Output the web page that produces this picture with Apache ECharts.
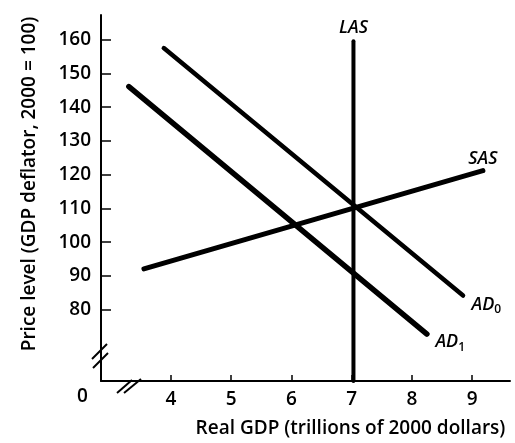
<!DOCTYPE html>
<html>
<head>
<meta charset="utf-8">
<script src="https://cdn.jsdelivr.net/npm/echarts@6/dist/echarts.min.js"></script>
<style>
  html, body { margin: 0; padding: 0; background: #fff; }
  #adasChart { width: 515px; height: 443px; }
</style>
</head>
<body>
<div id="adasChart"></div>
<script>
// tick labels
var xTicks = [4, 5, 6, 7, 8, 9]
var yTicks = [80, 90, 100, 110, 120, 130, 140, 150, 160]

// curves as [real GDP, price level]
var lasPoints = [[7.03, 58.9], [7.03, 159.5]]
var sasPoints = [[3.55, 92.1], [9.18, 121.2]]
var ad0Points = [[3.88, 157.5], [8.85, 84.2]]
var ad1Points = [[3.30, 146.1], [8.25, 72.8]]

var fontFam = '"Open Sans", "DejaVu Sans", sans-serif'

var chart = echarts.init(document.getElementById('adasChart'))

// put a label only on the last point of a curve
function withEndLabel(points, label) {
  return points.map(function(p, i) {
    if (i !== points.length - 1) return p
    return { value: p, label: label }
  })
}

var labelText = {
  show: true,
  color: '#000',
  fontFamily: fontFam,
  fontStyle: 'italic',
  fontWeight: 600,
  fontSize: 18,
  rich: {
    sub: { fontSize: 12, fontStyle: 'normal', fontFamily: fontFam, fontWeight: 600, padding: [11, 0, 0, 0] }
  }
}

function curve(name, points, width, label) {
  return {
    name: name,
    type: 'line',
    data: withEndLabel(points, Object.assign({}, labelText, label)),
    symbol: 'circle',
    symbolSize: 1,
    showSymbol: true,
    itemStyle: { color: '#000' },
    lineStyle: { color: '#000', width: width, cap: 'round' },
    label: { show: false },
    silent: true,
    animation: false
  }
}

var option = {
  backgroundColor: '#fff',
  grid: { left: 101, right: 5, top: 15, bottom: 58 },
  xAxis: {
    type: 'value',
    min: 2.837,
    max: 9.63,
    name: 'Real GDP (trillions of 2000 dollars)',
    nameLocation: 'middle',
    nameGap: 38,
    nameTextStyle: { color: '#000', fontFamily: fontFam, fontWeight: 600, fontSize: 19, padding: [0, 0, 0, 90] },
    splitLine: { show: false },
    axisLine: { show: true, onZero: false, lineStyle: { color: '#000', width: 2 } },
    axisTick: { show: true, inside: true, length: 6, customValues: xTicks, lineStyle: { color: '#000', width: 1.5 } },
    axisLabel: { customValues: xTicks, margin: 9, color: '#000', fontFamily: fontFam, fontWeight: 600, fontSize: 19 }
  },
  yAxis: {
    type: 'value',
    min: 58.9,
    max: 167.3,
    name: 'Price level (GDP deflator, 2000 = 100)',
    nameLocation: 'middle',
    nameGap: 62,
    nameRotate: 90,
    nameTextStyle: { color: '#000', fontFamily: fontFam, fontWeight: 600, fontSize: 19, padding: [0, 0, 0, 28] },
    splitLine: { show: false },
    axisLine: { show: true, onZero: false, lineStyle: { color: '#000', width: 2 } },
    axisTick: { show: true, inside: true, length: 10, customValues: yTicks, lineStyle: { color: '#000', width: 1.5 } },
    axisLabel: { customValues: yTicks, margin: 10, color: '#000', fontFamily: fontFam, fontWeight: 600, fontSize: 19 }
  },
  graphic: [
    // origin label
    { type: 'text', left: 77, top: 387, style: { text: '0', fill: '#000', font: '600 19px ' + fontFam } },
    // axis break marks
    { type: 'line', shape: { x1: 92, y1: 359, x2: 107, y2: 344 }, style: { stroke: '#000', lineWidth: 2 } },
    { type: 'line', shape: { x1: 93, y1: 368, x2: 108, y2: 353 }, style: { stroke: '#000', lineWidth: 2 } },
    { type: 'line', shape: { x1: 117, y1: 393, x2: 132, y2: 380 }, style: { stroke: '#000', lineWidth: 2 } },
    { type: 'line', shape: { x1: 124, y1: 393, x2: 141, y2: 379 }, style: { stroke: '#000', lineWidth: 2 } }
  ],
  series: [
    curve('LAS', lasPoints, 4, { position: 'top', distance: 4, formatter: 'LAS' }),
    curve('SAS', sasPoints, 5, { position: 'top', distance: 2, formatter: 'SAS' }),
    curve('AD0', ad0Points, 4.5, { position: 'right', distance: 8, offset: [0, 9], formatter: 'AD{sub|0}' }),
    curve('AD1', ad1Points, 5.5, { position: 'right', distance: 8, offset: [0, 8], formatter: 'AD{sub|1}' })
  ]
}

chart.setOption(option)
</script>
</body>
</html>
